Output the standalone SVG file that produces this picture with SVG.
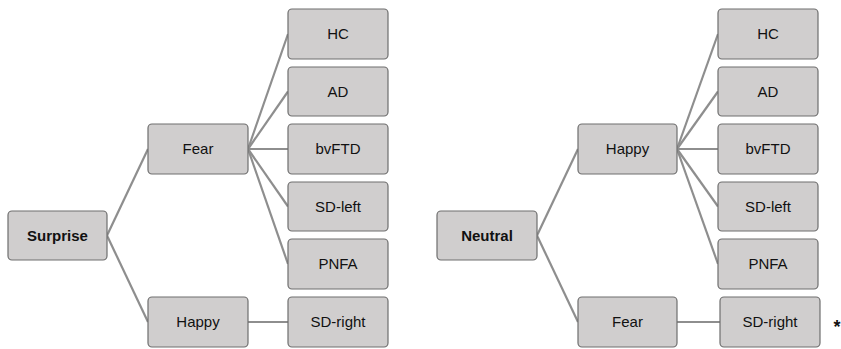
<svg xmlns="http://www.w3.org/2000/svg" width="841" height="349" viewBox="0 0 841 349">
<style>
.n rect{fill:#d0cece;stroke:#6e6e6e;stroke-width:1.2}
.n text{font-family:"Liberation Sans",Arial,sans-serif;font-size:15px;fill:#111;text-anchor:middle}
.b text{font-weight:bold}
#connectors line{stroke:#8e8e8e;stroke-width:2.2}
</style>
<rect width="841" height="349" fill="#fff"/>
<g id="connectors">
<line x1="107" y1="235.5" x2="148" y2="149"/>
<line x1="107" y1="235.5" x2="148" y2="322"/>
<line x1="248" y1="149" x2="288" y2="34"/>
<line x1="248" y1="149" x2="288" y2="91.5"/>
<line x1="248" y1="149" x2="288" y2="149"/>
<line x1="248" y1="149" x2="288" y2="206.5"/>
<line x1="248" y1="149" x2="288" y2="264"/>
<line x1="248" y1="322" x2="288" y2="322"/>
<line x1="537" y1="235.5" x2="578" y2="149"/>
<line x1="537" y1="235.5" x2="578" y2="322"/>
<line x1="677" y1="149" x2="718" y2="34"/>
<line x1="677" y1="149" x2="718" y2="91.5"/>
<line x1="677" y1="149" x2="718" y2="149"/>
<line x1="677" y1="149" x2="718" y2="206.5"/>
<line x1="677" y1="149" x2="718" y2="264"/>
<line x1="677" y1="322" x2="720" y2="322"/>
</g>
<g id="surprise" class="n b"><rect x="8" y="211" width="99" height="49" rx="4"/><text x="57.5" y="241">Surprise</text></g>
<g id="fear1" class="n"><rect x="148" y="124" width="100" height="50" rx="4"/><text x="198" y="154">Fear</text></g>
<g id="happy1" class="n"><rect x="148" y="297" width="100" height="50" rx="4"/><text x="198" y="327">Happy</text></g>
<g id="hc1" class="n"><rect x="288" y="9" width="100" height="50" rx="4"/><text x="338" y="39">HC</text></g>
<g id="ad1" class="n"><rect x="288" y="67" width="100" height="49" rx="4"/><text x="338" y="96.5">AD</text></g>
<g id="bvftd1" class="n"><rect x="288" y="124" width="100" height="50" rx="4"/><text x="338" y="154">bvFTD</text></g>
<g id="sdleft1" class="n"><rect x="288" y="182" width="100" height="49" rx="4"/><text x="338" y="211.5">SD-left</text></g>
<g id="pnfa1" class="n"><rect x="288" y="239" width="100" height="50" rx="4"/><text x="338" y="269">PNFA</text></g>
<g id="sdright1" class="n"><rect x="288" y="297" width="100" height="50" rx="4"/><text x="338" y="327">SD-right</text></g>
<g id="neutral" class="n b"><rect x="437" y="211" width="100" height="49" rx="4"/><text x="487" y="241">Neutral</text></g>
<g id="happy2" class="n"><rect x="578" y="124" width="99" height="50" rx="4"/><text x="627.5" y="154">Happy</text></g>
<g id="fear2" class="n"><rect x="578" y="297" width="99" height="50" rx="4"/><text x="627.5" y="327">Fear</text></g>
<g id="hc2" class="n"><rect x="718" y="9" width="100" height="50" rx="4"/><text x="768" y="39">HC</text></g>
<g id="ad2" class="n"><rect x="718" y="67" width="100" height="49" rx="4"/><text x="768" y="96.5">AD</text></g>
<g id="bvftd2" class="n"><rect x="718" y="124" width="100" height="50" rx="4"/><text x="768" y="154">bvFTD</text></g>
<g id="sdleft2" class="n"><rect x="718" y="182" width="100" height="49" rx="4"/><text x="768" y="211.5">SD-left</text></g>
<g id="pnfa2" class="n"><rect x="718" y="239" width="100" height="50" rx="4"/><text x="768" y="269">PNFA</text></g>
<g id="sdright2" class="n"><rect x="720" y="297" width="100" height="50" rx="4"/><text x="770" y="327">SD-right</text></g>
<text x="837" y="333" font-family="Liberation Sans,Arial,sans-serif" font-size="18" font-weight="bold" text-anchor="middle" fill="#111">*</text>
</svg>
